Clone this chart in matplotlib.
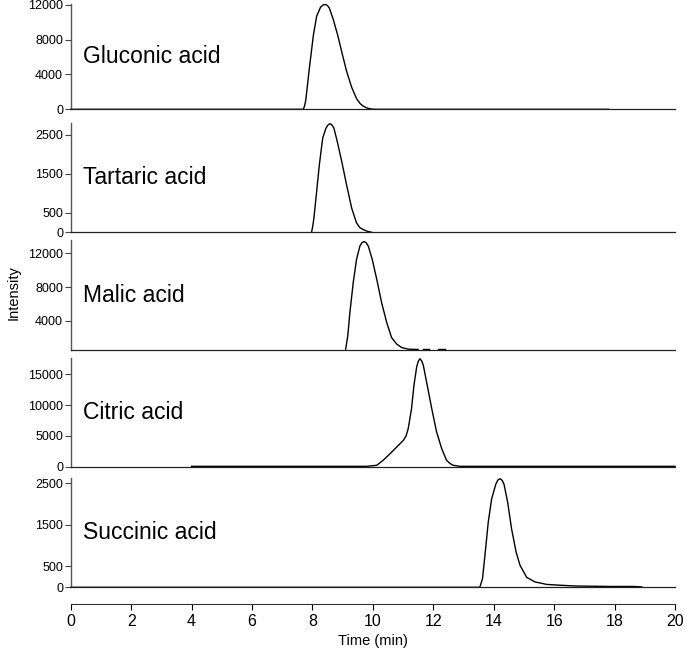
import matplotlib
matplotlib.use('Agg')
import matplotlib.pyplot as plt

plt.rcParams['font.family'] = ['Liberation Sans', 'DejaVu Sans']

# Chromatogram traces (time in min, intensity)
gluconic_t = [0.0, 7.70, 7.74, 7.78, 7.90, 8.03, 8.14, 8.27, 8.35, 8.42, 8.49, 8.56, 8.69,
              8.84, 8.97, 9.13, 9.30, 9.46, 9.58, 9.68, 9.82, 9.96, 10.10, 17.80]
gluconic_v = [0, 0, 400, 1040, 4750, 8470, 10700, 11740, 11980, 12050, 11950, 11630, 10330,
              8470, 6610, 4380, 2520, 1230, 650, 370, 130, 30, 0, 0]

tartaric_t = [7.97, 8.01, 8.05, 8.14, 8.23, 8.34, 8.45, 8.52, 8.58, 8.64, 8.71, 8.82,
              8.97, 9.13, 9.30, 9.46, 9.57, 9.68, 9.82, 9.96]
tartaric_v = [0, 150, 370, 1050, 1740, 2420, 2680, 2760, 2790, 2760, 2680, 2340,
              1820, 1220, 620, 240, 120, 70, 25, 0]

malic_t = [9.10, 9.17, 9.24, 9.35, 9.46, 9.57, 9.64, 9.71, 9.78, 9.85, 9.98, 10.13,
           10.29, 10.46, 10.62, 10.79, 10.95, 11.17, 11.50]
malic_v = [600, 2180, 4950, 8510, 11290, 12870, 13280, 13420, 13270, 12870, 11290, 8910,
           6140, 3760, 1980, 1200, 800, 600, 560]
malic_noise_t = [11.65, 11.85, 12.00, 12.15, 12.25, 12.40]
malic_noise_v = [560, 560, None, 560, 560, 560]

citric_t = [4.0, 9.79, 10.13, 10.34, 10.57, 10.79, 11.01, 11.10, 11.17, 11.28, 11.36, 11.45,
            11.50, 11.56, 11.62, 11.67, 11.80, 11.95, 12.11, 12.28, 12.44, 12.56, 12.66,
            12.88, 20.0]
citric_v = [60, 60, 230, 1040, 2110, 3200, 4280, 5000, 6170, 9410, 13210, 16180,
            17100, 17530, 17150, 16460, 13210, 9410, 5630, 2920, 1040, 500, 230,
            60, 60]

succinic_t = [0.0, 13.54, 13.63, 13.71, 13.82, 13.93, 14.07, 14.14, 14.21, 14.28, 14.34,
              14.46, 14.59, 14.74, 14.87, 15.09, 15.36, 15.75, 16.19, 16.74, 17.85, 18.62,
              18.90]
succinic_v = [0, 0, 210, 770, 1570, 2120, 2480, 2580, 2610, 2570, 2480,
              2050, 1410, 850, 530, 240, 130, 70, 50, 30, 20, 20, 10]

names = ['Gluconic acid', 'Tartaric acid', 'Malic acid', 'Citric acid', 'Succinic acid']
times = [gluconic_t, tartaric_t, malic_t, citric_t, succinic_t]
values = [gluconic_v, tartaric_v, malic_v, citric_v, succinic_v]
yticks = [[0, 4000, 8000, 12000], [0, 500, 1500, 2500], [4000, 8000, 12000],
          [0, 5000, 10000, 15000], [0, 500, 1500, 2500]]
ylims = [(0, 12100), (0, 2800), (500, 13600), (0, 17700), (0, 2620)]

W, H = 685, 652
fig = plt.figure(figsize=(W / 100, H / 100), dpi=100)

# panel extents in pixels (top, bottom)
left_px, right_px = 70.7, 675.0
panels_px = [(4.0, 109.3), (123.3, 232.3), (240.0, 350.0), (357.7, 466.7), (478.3, 587.3)]

axes = []
for i, (top, bot) in enumerate(panels_px):
    ax = fig.add_axes([left_px / W, 1 - bot / H, (right_px - left_px) / W, (bot - top) / H])
    ax.plot(times[i], values[i], color='black', lw=1.0, clip_on=False)
    if i == 2:
        ax.plot(malic_noise_t, [v if v is not None else float('nan') for v in malic_noise_v],
                color='black', lw=1.0)
    ax.set_xlim(0, 20)
    ax.set_ylim(*ylims[i])
    ax.set_yticks(yticks[i])
    ax.set_xticks([])
    ax.spines['top'].set_visible(False)
    ax.spines['right'].set_visible(False)
    ax.spines['left'].set_color('#555555')
    ax.spines['left'].set_linewidth(1.0)
    ax.spines['bottom'].set_color('#222222')
    ax.spines['bottom'].set_linewidth(0.9)
    ax.tick_params(axis='y', labelsize=9, length=4, width=0.8, pad=1.5, color='#444444')
    ax.text(0.021, 0.5, names[i], transform=ax.transAxes, fontsize=16.5,
            va='center', ha='left')
    ax.patch.set_alpha(0)
    axes.append(ax)

# shared time axis drawn below the bottom panel
xax_y = 604.0
xax = fig.add_axes([left_px / W, 1 - xax_y / H, (right_px - left_px) / W, 0.001])
xax.set_xlim(0, 20)
xax.set_xticks(range(0, 21, 2))
xax.set_yticks([])
for s in ['top', 'right', 'left']:
    xax.spines[s].set_visible(False)
xax.spines['bottom'].set_color('#333333')
xax.tick_params(axis='x', labelsize=11.5, length=4, width=0.8, pad=3)
xax.set_xlabel('Time (min)', fontsize=10.5, labelpad=4)
xax.patch.set_alpha(0)

fig.text(14 / W, 1 - 293 / H, 'Intensity', rotation=90, fontsize=10.5,
         ha='center', va='center')

fig.savefig('out.png', dpi=100)
